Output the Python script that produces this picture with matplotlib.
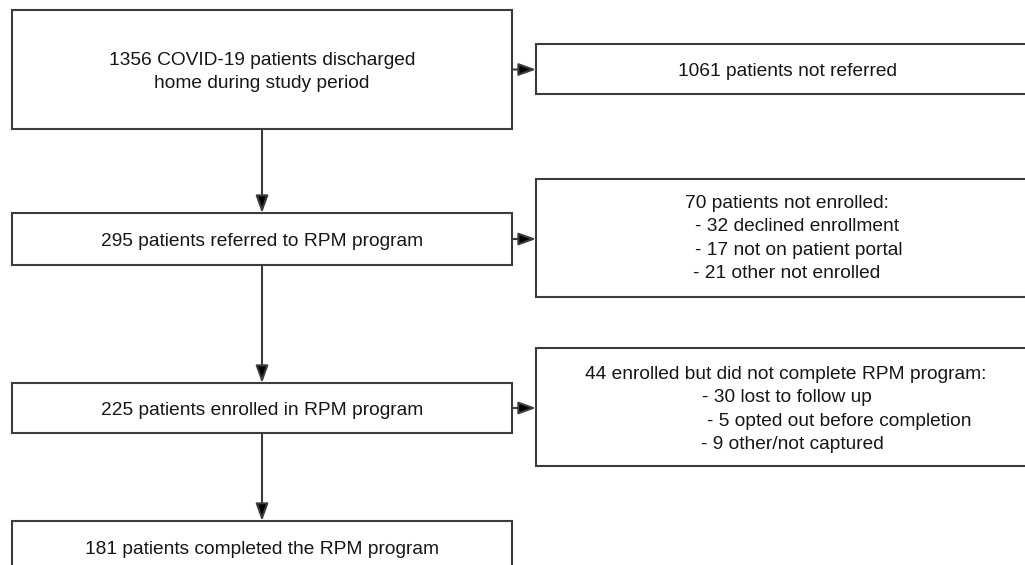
import matplotlib
matplotlib.use("Agg")
import matplotlib.pyplot as plt
from matplotlib.patches import Rectangle

# ---- data -------------------------------------------------------------
main_counts = [1356, 295, 225, 181]
main_labels = [
    ["1356 COVID-19 patients discharged", "home during study period"],
    ["295 patients referred to RPM program"],
    ["225 patients enrolled in RPM program"],
    ["181 patients completed the RPM program"],
]
side_counts = [1061, 70, 44]
side_labels = [
    ["1061 patients not referred"],
    ["70 patients not enrolled:",
     "- 32 declined enrollment",
     "- 17 not on patient portal",
     "- 21 other not enrolled"],
    ["44 enrolled but did not complete RPM program:",
     "- 30 lost to follow up",
     "- 5 opted out before completion",
     "- 9 other/not captured"],
]

# ---- layout (pixel space) ----------------------------------------------
W, H = 1025, 565
main_x0, main_x1 = 12, 512
main_y = [(10, 129), (213, 265), (383, 433), (521, 590)]
main_text_cy = [None, 239, 408, 547]
side_x0, side_x1 = 536, 1045
side_y = [(44, 94), (179, 297), (348, 466)]
# left x for each side line (None => centred)
side_line_x = [[None], [685, 695, 695, 693], [585, 702, 707, 701]]
side_first_baseline = [None, 208, 379]
line_step = 23.4
cx_main = (main_x0 + main_x1) / 2
cx_side = 787

FS = 13.8
EDGE = "#3c3c3c"
LW = 1.5
TXT = "#161616"
plt.rcParams["font.family"] = ["Liberation Sans", "DejaVu Sans"]

fig = plt.figure(figsize=(W / 100, H / 100), dpi=100)
ax = fig.add_axes([0, 0, 1, 1])
ax.set_xlim(0, W)
ax.set_ylim(H, 0)
ax.axis("off")

cap_half = 0.358 * FS * 100 / 72  # half cap height in px


def box(x0, y0, x1, y1):
    ax.add_patch(Rectangle((x0, y0), x1 - x0, y1 - y0, fill=True,
                           facecolor="white", edgecolor=EDGE, lw=LW, zorder=2))


def arrow(xy_from, xy_to):
    ax.annotate("", xy=xy_to, xytext=xy_from,
                arrowprops=dict(arrowstyle="-|>,head_length=1.05,head_width=0.38",
                                mutation_scale=10, lw=LW, color=EDGE,
                                fc="black", ec=EDGE, shrinkA=0, shrinkB=0),
                zorder=3)


# main boxes
for i, (lines, (y0, y1)) in enumerate(zip(main_labels, main_y)):
    box(main_x0, y0, main_x1, y1)
    n = len(lines)
    cy = main_text_cy[i] if main_text_cy[i] is not None else (y0 + y1) / 2
    for k, ln in enumerate(lines):
        yb = cy + (k - (n - 1) / 2) * line_step + cap_half
        ax.text(cx_main, yb, ln, ha="center", va="baseline",
                fontsize=FS, color=TXT, zorder=4)

# side boxes
for i, (lines, (y0, y1)) in enumerate(zip(side_labels, side_y)):
    box(side_x0, y0, side_x1, y1)
    if side_first_baseline[i] is None:
        yb = (y0 + y1) / 2 + cap_half
        ax.text(cx_side, yb, lines[0], ha="center", va="baseline",
                fontsize=FS, color=TXT, zorder=4)
    else:
        for k, ln in enumerate(lines):
            yb = side_first_baseline[i] + k * line_step
            ax.text(side_line_x[i][k], yb, ln, ha="left", va="baseline",
                    fontsize=FS, color=TXT, zorder=4)

# vertical arrows
for (ya0, ya1), (yb0, yb1) in zip(main_y[:-1], main_y[1:]):
    arrow((cx_main, ya1), (cx_main, yb0))

# horizontal arrows
for (y0, y1) in main_y[:3]:
    yc = (y0 + y1) / 2
    arrow((main_x1, yc), (side_x0, yc))

fig.savefig("out.png", dpi=100, facecolor="white")
